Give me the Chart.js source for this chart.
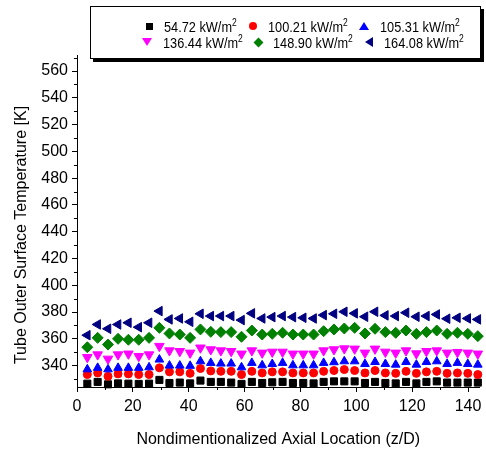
<!DOCTYPE html>
<html>
<head>
<meta charset="utf-8">
<script src="https://cdn.jsdelivr.net/npm/chart.js@4.4.0/dist/chart.umd.min.js"></script>
<style>
  html, body { margin: 0; padding: 0; background: #fff; overflow: hidden; }
  #wrap { position: relative; width: 486px; height: 452px; }
  #chart { position: absolute; left: 0; top: 0; }
  #legend {
    position: absolute; left: 90px; top: 6px; width: 391px; height: 53px;
    box-sizing: border-box; border: 1px solid #000; background: #fff;
    box-shadow: 3px 3px 0 #000;
    font-family: 'Liberation Sans', Arial, sans-serif;
    font-size: 15px; color: #000; padding-left: 35px; padding-top: 3px;
    display: flex; flex-direction: column; justify-content: center;
  }
  .row { display: flex; justify-content: center; align-items: center; height: 16px; }
  .item { display: flex; align-items: center; margin: 0 6px; white-space: nowrap; }
  .mk { display: inline-block; margin-right: 11px; }
  .tx { display: inline-block; transform: scaleX(0.85); transform-origin: left center; }
  sup { font-size: 10px; vertical-align: 6px; line-height: 0; }
</style>
</head>
<body>
<div id="wrap">
  <canvas id="chart" width="486" height="452"></canvas>
  <div id="legend"></div>
</div>
<script>
// Axial positions (z/D)
const zD = [3.7, 7.4, 11.1, 14.7, 18.4, 22.1, 25.8, 29.5, 33.1, 36.8, 40.5, 44.2, 47.9,
            51.5, 55.2, 58.9, 62.6, 66.3, 69.9, 73.6, 77.3, 81.0, 84.7, 88.3, 92.0,
            95.7, 99.4, 103.1, 106.7, 110.4, 114.1, 117.8, 121.5, 125.1, 128.8, 132.5, 136.2, 139.9, 143.5];

// Tube outer surface temperature [K] per heat flux
const t5472 = [326.5, 327.8, 326, 326.7, 326.5, 326.3, 326.5, 329.3, 327, 327.3, 326.7, 328.8, 327.8,
               327.8, 327.3, 326.3, 327.8, 327, 327.5, 327.8, 327, 327, 326.7, 327.8, 328.2,
               328.2, 328.2, 327, 327.8, 327, 326.7, 327.8, 326.7, 327.8, 328.2, 327.3, 327.3, 327.3, 327.3];
const t10021 = [333.3, 334.5, 332, 333.8, 333.8, 333.3, 333.3, 338.3, 335.3, 335.3, 334.2, 337.8, 336,
                335.7, 335.7, 333.3, 335.7, 334.5, 335.3, 335.3, 334.5, 334.5, 334.5, 335.7, 336.3,
                337, 336.3, 334.5, 336.3, 334.5, 334.2, 335.7, 334.2, 335.3, 335.7, 334.2, 334.5, 334.2, 333.3];
const t10531 = [337.2, 338.3, 337.2, 338.3, 338.3, 338.3, 338.7, 344.5, 340, 340, 339.8, 343.2, 342,
                341.5, 341.5, 338.7, 342, 340.2, 341.2, 342, 340.2, 340.2, 340.2, 342, 342.5,
                343.2, 343.2, 341.2, 342.7, 341.2, 340.7, 342.7, 340.7, 342.7, 343.2, 341.2, 342, 341.2, 340.7];
const t13644 = [346.2, 348.2, 345, 348.2, 348.8, 347, 348.2, 354.5, 351.2, 350.7, 349.5, 353.3, 352,
                351.2, 350.7, 348.8, 351.2, 349.5, 350.2, 350.2, 348.8, 348.8, 348.8, 351.2, 352,
                352.7, 352.5, 349.5, 352.5, 350.2, 349.5, 351.2, 349, 350.7, 351.2, 349.5, 350, 349.5, 348.8];
const t14890 = [353.7, 360.7, 355.7, 360, 359.3, 359.3, 360.7, 368.2, 364, 363.2, 360.7, 367, 365.2,
                365, 365, 361.5, 366.2, 363.2, 363.7, 364.5, 363.2, 363.2, 363.2, 365.7, 367,
                367.7, 368.2, 364, 367.5, 365, 364.5, 366.2, 363.7, 365, 366.2, 363.7, 364.5, 363.7, 362];
const t16408 = [362.7, 370.7, 367.5, 370.7, 372, 368.7, 372, 380.7, 374.5, 375.2, 372.7, 378.7, 377,
                377, 377, 374, 379, 375.2, 376.2, 377, 376.2, 375.7, 375.2, 377.7, 378.7,
                380.2, 379, 376.5, 380.2, 377.5, 377, 379.5, 376.5, 377, 378.2, 375, 375.7, 375.2, 374.5];

const fluxLabels = ['54.72', '100.21', '105.31', '136.44', '148.90', '164.08'];
const seriesData = [t5472, t10021, t10531, t13644, t14890, t16408];
const seriesColors = ['#000000', '#ff0000', '#0000ff', '#ff00ff', '#008000', '#000080'];
const seriesStyles = ['rect', 'circle', 'triangle', 'triangle', 'rectRot', 'triangle'];
const seriesRotation = [0, 0, 0, 180, 0, -90];
const seriesRadius = [5, 4, 5, 5.5, 5.5, 5.5];

const xTitle = 'Nondimentionalized Axial Location (z/D)';
const yTitle = 'Tube Outer Surface Temperature [K]';

Chart.defaults.font.family = "'Liberation Sans', Arial, sans-serif";
Chart.defaults.color = '#000';

// minor ticks + y title (title sits a bit below the axis centre in the original)
const axisExtras = {
    id: 'axisExtras',
    afterDraw(chart) {
        const { ctx, chartArea, scales: { x, y } } = chart;
        ctx.save();
        ctx.strokeStyle = '#000';
        ctx.lineWidth = 1;
        ctx.beginPath();
        for (let v = 10; v < x.max; v += 20) {
            const px = Math.round(x.getPixelForValue(v)) + 0.5;
            ctx.moveTo(px, chartArea.bottom);
            ctx.lineTo(px, chartArea.bottom + 3);
        }
        for (let v = 330; v < y.max; v += 20) {
            const py = Math.round(y.getPixelForValue(v)) + 0.5;
            ctx.moveTo(chartArea.left, py);
            ctx.lineTo(chartArea.left - 3, py);
        }
        ctx.stroke();

        ctx.translate(22, 235);
        ctx.rotate(-Math.PI / 2);
        ctx.font = "16px 'Liberation Sans', Arial, sans-serif";
        ctx.fillStyle = '#000';
        ctx.textAlign = 'center';
        ctx.textBaseline = 'middle';
        ctx.fillText(yTitle, 0, 0);
        ctx.restore();
    }
};

const datasets = seriesData.map((vals, i) => ({
    label: fluxLabels[i] + ' kW/m²',
    data: zD.map((z, j) => ({ x: z, y: vals[j] })),
    showLine: false,
    pointStyle: seriesStyles[i],
    rotation: seriesRotation[i],
    pointRadius: seriesRadius[i],
    backgroundColor: seriesColors[i],
    borderColor: seriesColors[i],
    borderWidth: 1,
    clip: false,
    order: seriesData.length - i
}));

new Chart(document.getElementById('chart'), {
    type: 'scatter',
    data: { datasets: datasets },
    options: {
        responsive: false,
        animation: false,
        layout: { padding: { top: 55, right: 0, bottom: 0, left: 0 } },
        plugins: {
            legend: { display: false },
            tooltip: { enabled: false }
        },
        scales: {
            x: {
                type: 'linear',
                min: 0,
                max: 144.1,
                border: { display: true, color: '#000', width: 1 },
                grid: { display: true, drawOnChartArea: false, drawTicks: true, tickLength: 5, color: '#000' },
                ticks: { stepSize: 20, includeBounds: false, maxRotation: 0, padding: 5, font: { size: 16 } },
                title: { display: true, text: xTitle, font: { size: 16 }, padding: { top: 0, bottom: 3 } },
                afterFit(s) { s.height = 65; s.paddingLeft = 0; s.paddingRight = 0; }
            },
            y: {
                min: 324,
                max: 572,
                border: { display: true, color: '#000', width: 1 },
                grid: { display: true, drawOnChartArea: false, drawTicks: true, tickLength: 5, color: '#000' },
                ticks: { stepSize: 20, includeBounds: false, padding: 4, font: { size: 16 } },
                title: { display: false },
                afterFit(s) { s.width = 77; s.paddingTop = 0; s.paddingBottom = 0; }
            }
        }
    },
    plugins: [axisExtras]
});

// HTML legend (two rows of three, superscript units)
const legendMarkers = [
    'width:7px;height:7px;background:#000;',
    'width:8px;height:8px;border-radius:50%;background:#ff0000;',
    'width:0;height:0;border-left:5px solid transparent;border-right:5px solid transparent;border-bottom:8px solid #0000ff;',
    'width:0;height:0;border-left:5px solid transparent;border-right:5px solid transparent;border-top:8px solid #ff00ff;',
    'width:7px;height:7px;background:#008000;transform:rotate(45deg);',
    'width:0;height:0;border-top:5px solid transparent;border-bottom:5px solid transparent;border-right:8px solid #000080;'
];
const legend = document.getElementById('legend');
[[0, 1, 2], [3, 4, 5]].forEach(rowIdx => {
    const row = document.createElement('div');
    row.className = 'row';
    rowIdx.forEach(i => {
        const item = document.createElement('div');
        item.className = 'item';
        item.innerHTML = '<span class="mk" style="' + legendMarkers[i] + '"></span>' +
            '<span class="tx">' + fluxLabels[i] + ' kW/m<sup>2</sup></span>';
        row.appendChild(item);
    });
    legend.appendChild(row);
});
// text is squeezed horizontally, so pull back the unused layout width
legend.querySelectorAll('.tx').forEach(el => {
    el.style.marginRight = (-el.offsetWidth * 0.15) + 'px';
});
</script>
</body>
</html>
